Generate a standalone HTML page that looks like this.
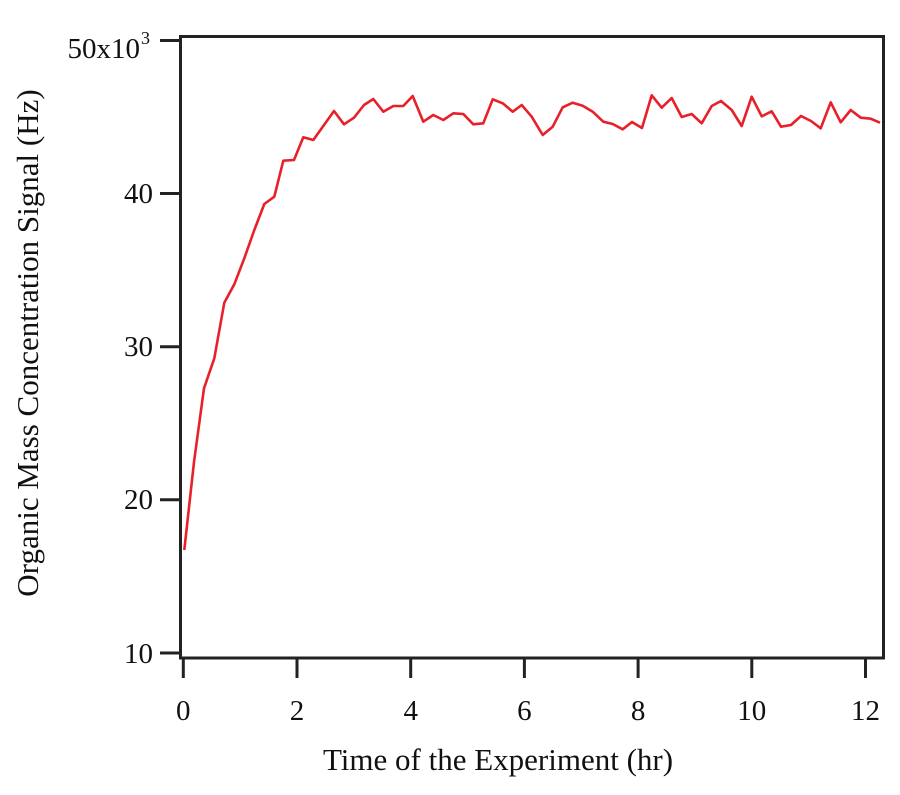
<!DOCTYPE html>
<html><head><style>body{margin:0;background:#fff}</style></head><body>
<svg width="900" height="790" xmlns="http://www.w3.org/2000/svg" font-family="Liberation Serif, serif" fill="#111">
<rect width="900" height="790" fill="#fff"/>
<polyline fill="none" stroke="#e8202a" stroke-width="2.6" stroke-linejoin="round" points="184.3,550 194,462 204,388.3 214.3,358.3 224.3,302.7 234.3,284.3 244.3,258.3 254.3,230 264.3,204 274.3,196.7 283.3,160.7 294,160 303.3,137.3 313.3,140 324,125 334,111 344,124.3 354,117.7 364,105 373.3,99 383.3,111.7 393.3,106 403.3,106 412.7,96 423.3,121.7 433.3,115 443.3,120 453.3,113.3 463.3,114 473.3,124.3 483.3,123.3 492.7,99.3 502.7,103.3 512.7,111.7 521.7,105 531.7,116.7 542.7,135 552.7,126.7 562.7,107.3 572.7,102.7 582.7,105.7 592.7,111.7 603.3,121.7 612.7,124 622.7,129.3 632,122 642,128 651.7,95.3 661.7,107.7 671.7,98 681.7,117 691.7,114 701.7,123.3 711.7,106 721,101 731.7,110 741.7,126 751.7,96.7 761.7,116.3 771.7,111.3 781,126.7 791,125 801,116 811,121 820.7,128.3 830.7,102.3 840.7,122.3 850.7,110 860.7,117.7 870.7,118.7 880,122.7"/>
<rect x="180.5" y="36.5" width="703" height="621.5" fill="none" stroke="#222" stroke-width="3"/>
<g stroke="#222" stroke-width="3">
<line x1="160" y1="40.5" x2="180" y2="40.5"/><line x1="160" y1="193.5" x2="180" y2="193.5"/><line x1="160" y1="346.7" x2="180" y2="346.7"/><line x1="160" y1="499.8" x2="180" y2="499.8"/><line x1="160" y1="653" x2="180" y2="653"/>
<line x1="183.3" y1="658" x2="183.3" y2="678"/><line x1="297" y1="658" x2="297" y2="678"/><line x1="410.7" y1="658" x2="410.7" y2="678"/><line x1="524.4" y1="658" x2="524.4" y2="678"/><line x1="638.1" y1="658" x2="638.1" y2="678"/><line x1="751.8" y1="658" x2="751.8" y2="678"/><line x1="865.5" y1="658" x2="865.5" y2="678"/>
</g>
<g font-size="29" text-anchor="end">
<text x="153" y="203">40</text><text x="153" y="356">30</text><text x="153" y="509">20</text><text x="153" y="663">10</text>
<text x="140" y="58">50x10</text>
</g>
<text x="141" y="44" font-size="18">3</text>
<g font-size="29" text-anchor="middle">
<text x="183.3" y="720">0</text><text x="297" y="720">2</text><text x="410.7" y="720">4</text><text x="524.4" y="720">6</text><text x="638.1" y="720">8</text><text x="751.8" y="720">10</text><text x="865.5" y="720">12</text>
</g>
<text x="498" y="770" font-size="31" text-anchor="middle">Time of the Experiment (hr)</text>
<text transform="translate(38,343) rotate(-90)" font-size="31" text-anchor="middle">Organic Mass Concentration Signal (Hz)</text>
</svg>
</body></html>
